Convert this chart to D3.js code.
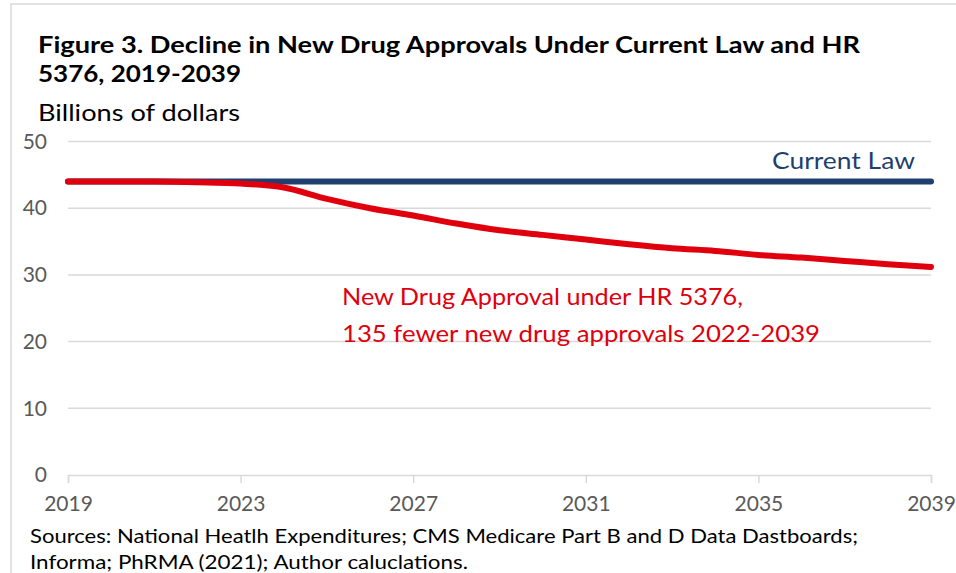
<!DOCTYPE html>
<html>
<head>
<meta charset="utf-8">
<script src="https://cdn.jsdelivr.net/npm/d3@7"></script>
<style>
  html, body { margin: 0; padding: 0; background: #fff; }
  svg { display: block; font-family: Lato, "Open Sans", sans-serif; }
</style>
</head>
<body>
<svg id="chart" width="956" height="573"></svg>
<script>
// ---- data ----
const years = [2019, 2020, 2021, 2022, 2023, 2024, 2025, 2026, 2027, 2028, 2029,
               2030, 2031, 2032, 2033, 2034, 2035, 2036, 2037, 2038, 2039];
const currentLaw = [44, 44, 44, 44, 44, 44, 44, 44, 44, 44, 44,
                    44, 44, 44, 44, 44, 44, 44, 44, 44, 44];
const hr5376 = [44.0, 44.0, 44.0, 43.9, 43.7, 43.1, 41.4, 40.0, 38.9, 37.7, 36.7,
                36.0, 35.3, 34.6, 34.0, 33.6, 33.0, 32.6, 32.1, 31.6, 31.2];
const xTicks = [2019, 2023, 2027, 2031, 2035, 2039];
const yTicks = [0, 10, 20, 30, 40, 50];
const titleLines = ["Figure 3. Decline in New Drug Approvals Under Current Law and HR", "5376, 2019-2039"];
const yAxisLabel = "Billions of dollars";
const currentLawLabel = "Current Law";
const hrLabelLines = ["New Drug Approval under HR 5376,", "135 fewer new drug approvals 2022-2039"];
const sourceLines = ["Sources: National Heatlh Expenditures; CMS Medicare Part B and D Data Dastboards;",
                     "Informa; PhRMA (2021); Author caluclations."];

// ---- drawing ----
const svg = d3.select("#chart");
const x = d3.scaleLinear().domain([2019, 2039]).range([68, 931]);
const y = d3.scaleLinear().domain([0, 50]).range([475, 141.5]);

// frame
svg.append("rect").attr("x", 11).attr("y", 4).attr("width", 1000).attr("height", 700)
  .attr("fill", "none").attr("stroke", "#d9d9d9").attr("stroke-width", 1.5);

// gridlines
svg.append("g").selectAll("line").data(yTicks.filter(d => d > 0)).join("line")
  .attr("x1", x(2019)).attr("x2", x(2039))
  .attr("y1", d => y(d)).attr("y2", d => y(d))
  .attr("stroke", "#d9d9d9").attr("stroke-width", 1.5);

// x axis
const xAxis = d3.axisBottom(x).tickValues(xTicks).tickFormat(d3.format("d"))
  .tickSize(8).tickPadding(13);
const gx = svg.append("g").attr("transform", `translate(0,${y(0)})`).call(xAxis);
gx.select(".domain").attr("stroke", "#d9d9d9").attr("stroke-width", 1.5);
gx.selectAll(".tick line").attr("stroke", "#d9d9d9").attr("stroke-width", 1.5);
gx.selectAll(".tick text").attr("fill", "#595959").attr("font-size", 21)
  .attr("font-family", "Lato, sans-serif");

// y axis labels
const yAxis = d3.axisLeft(y).tickValues(yTicks).tickSize(0).tickPadding(21);
const gy = svg.append("g").attr("transform", `translate(${x(2019)},0)`).call(yAxis);
gy.select(".domain").remove();
gy.selectAll(".tick text").attr("fill", "#595959").attr("font-size", 21)
  .attr("font-family", "Lato, sans-serif");

// lines
const line = d3.line().x((d, i) => x(years[i])).y(d => y(d)).curve(d3.curveMonotoneX);
svg.append("path").datum(currentLaw).attr("d", line)
  .attr("fill", "none").attr("stroke", "#1f3f6e").attr("stroke-width", 6)
  .attr("stroke-linecap", "round");
svg.append("path").datum(hr5376).attr("d", line)
  .attr("fill", "none").attr("stroke", "#e0000d").attr("stroke-width", 6)
  .attr("stroke-linecap", "round").attr("stroke-linejoin", "round");

// title
svg.append("text").attr("x", 38).attr("y", 53).attr("font-size", 23).attr("font-weight", "bold")
  .attr("fill", "#000").attr("textLength", 822).attr("lengthAdjust", "spacingAndGlyphs").text(titleLines[0]);
svg.append("text").attr("x", 38).attr("y", 82).attr("font-size", 23).attr("font-weight", "bold")
  .attr("fill", "#000").attr("textLength", 203).attr("lengthAdjust", "spacingAndGlyphs").text(titleLines[1]);
svg.append("text").attr("x", 38).attr("y", 121).attr("font-size", 24)
  .attr("fill", "#000").attr("textLength", 202).attr("lengthAdjust", "spacingAndGlyphs").text(yAxisLabel);

// series labels
svg.append("text").attr("x", 915).attr("y", 169).attr("text-anchor", "end").attr("font-size", 24)
  .attr("fill", "#1f3f6e").attr("textLength", 143).attr("lengthAdjust", "spacingAndGlyphs").text(currentLawLabel);
svg.append("text").attr("x", 342).attr("y", 305).attr("font-size", 24)
  .attr("fill", "#e0000d").attr("textLength", 401).attr("lengthAdjust", "spacingAndGlyphs").text(hrLabelLines[0]);
svg.append("text").attr("x", 342).attr("y", 342).attr("font-size", 24)
  .attr("fill", "#e0000d").attr("textLength", 478).attr("lengthAdjust", "spacingAndGlyphs").text(hrLabelLines[1]);

// sources
svg.append("text").attr("x", 30).attr("y", 543).attr("font-size", 20)
  .attr("fill", "#000").attr("textLength", 828).attr("lengthAdjust", "spacingAndGlyphs").text(sourceLines[0]);
svg.append("text").attr("x", 30).attr("y", 569).attr("font-size", 20)
  .attr("fill", "#000").attr("textLength", 438).attr("lengthAdjust", "spacingAndGlyphs").text(sourceLines[1]);
</script>
</body>
</html>
